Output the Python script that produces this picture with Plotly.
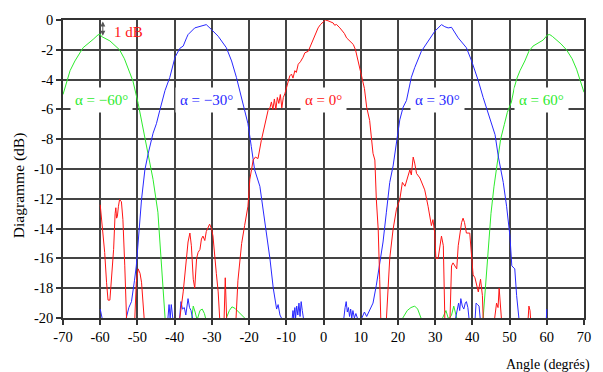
import plotly.graph_objects as go

# ---------------- data (angle in degrees, pattern in dB; -21 = below the plotted range) ----------------
green_m60_x = [-70, -68.1, -66.8, -64.6, -61.9, -60.6, -60.0, -59.7, -57.4, -54.8, -53.5, -52.1, -51.2,
               -49.8, -48.5, -47.1, -45.8, -44.5, -43.5, -42.6, -42.3,
               -35.9, -35.5, -35.0, -34.5, -34.1, -33.8, -33.2, -32.6, -32.0, -31.7, -31.4,
               -26.5, -26.1, -25.3, -24.6, -23.8, -22.5, -21.2, -20.9, 0]
green_m60_y = [-5.0, -3.4, -2.75, -1.86, -1.3, -1.0, -0.95, -1.1, -1.4, -2.0, -2.6, -3.5, -4.1,
               -5.6, -7.2, -8.95, -10.7, -12.9, -16.3, -19.6, -21,
               -21, -20, -19.2, -19.6, -20, -20, -19.5, -19.4, -19.7, -20, -21,
               -21, -20, -19.5, -19.25, -19.35, -19.7, -20, -21, -21]

green_p60_x = [0, 20.9, 21.3, 22.5, 23.5, 24.5, 25.3, 26.2, 26.6,
               31.6, 32.0, 32.9, 33.5, 33.9, 34.4, 35.0, 35.8, 36.2,
               42.6, 42.9, 43.4, 44.2, 45.0, 45.8, 46.6, 47.6, 48.6, 49.4, 50.5, 51.3, 52.0, 52.8,
               54.1, 55.2, 56.3, 58.0, 59.0, 60.2, 60.8, 61.5, 62.2, 63.8, 65.3, 66.8, 68.0, 69.2, 70]
green_p60_y = [-21, -21, -20, -19.5, -19.3, -19.2, -19.4, -20, -21,
               -21, -20, -19.5, -20, -20, -19.8, -19.2, -20, -21,
               -21, -20, -18.0, -15.2, -13.0, -11.2, -9.6, -8.0, -7.0, -6.2, -5.5, -4.5, -3.9, -3.4,
               -2.75, -2.1, -1.75, -1.5, -1.35, -1.0, -0.98, -1.1, -1.25, -1.6, -2.0, -2.6, -3.3, -4.2, -4.85]

blue_m30_x = [-60.0, -59.5, -59.3,
              -53.3, -53.0, -52.3, -51.6, -51.2, -50.8, -50.3, -49.8, -49.3, -48.9, -48.0, -47.1, -45.8,
              -44.9, -44.0, -42.6, -41.3, -39.9, -38.6, -37.7, -36.8, -36.4, -34.6, -33.5, -32.8, -32.2,
              -31.5, -30.1, -28.3, -26.1, -24.7, -23.4, -22.5, -21.6, -21.2, -20.3, -19.4, -18.5, -17.1,
              -16.2, -15.3, -14.4, -13.5, -12.6, -12.2, -11.7, -11.3, -11.0,
              -8.8, -8.5, -8.2, -8.0, -7.7, -7.5, -7.2, -6.9, -6.6, -6.3, -6.0, -5.7, -5.4, -5.2,
              35.2, 35.5, 35.9, 36.3, 36.6, 36.9, 37.3, 37.7, 38.1, 38.4, 38.8, 39.2, 39.5,
              40.5, 40.8, 41.0, 41.4, 41.8, 42.1, 42.4, 60.0]
blue_m30_y = [-19.4, -20, -21,
              -21, -20, -19.3, -18.9, -18.0, -17.5, -16.5, -14.9, -13.5, -12.05, -10.06, -8.95, -7.6,
              -6.96, -6.07, -4.74, -3.85, -2.5, -1.9, -1.75, -1.2, -0.98, -0.53, -0.45, -0.42, -0.35,
              -0.31, -0.64, -1.09, -1.86, -2.75, -3.85, -4.74, -5.63, -6.07, -6.96, -8.5, -10.06, -11.16,
              -12.7, -14.3, -16.0, -18.0, -19.4, -19.1, -19.8, -20, -21,
              -21, -20, -19.5, -20, -19.3, -20, -19.2, -19.8, -19.0, -19.9, -18.9, -19.5, -20, -21,
              -21, -20, -19.6, -19.0, -19.5, -18.7, -19.2, -19.4, -19.0, -18.9, -19.3, -20, -21,
              -21, -20, -19.0, -19.1, -19.2, -20, -21, -21]

blue_p30_x = [-60.0, -42.0, -41.8, -41.5, -41.2, -40.9, -40.5, -40.2,
              -39.0, -38.7, -38.3, -37.9, -37.4, -37.0, -36.7, -36.4, -36.0, -35.6, -35.2, -34.9,
              5.0, 5.4, 5.8, 6.1, 6.4, 6.7, 7.0, 7.3, 7.6, 7.9, 8.3, 8.7, 9.1, 9.4,
              10.0, 10.3, 11.0, 11.6, 12.4, 13.3, 14.2, 15.1, 16.0, 16.9, 17.8, 18.7, 19.6, 20.5, 21.4,
              22.3, 23.6, 24.5, 26.3, 28.1, 29.9, 31.7, 32.6, 33.5, 34.4, 36.2, 38.4, 39.8, 41.6, 42.9,
              44.7, 46.1, 47.0, 48.3, 49.2, 50.1, 50.6, 51.4, 51.9, 52.3, 52.6, 52.9,
              59.7, 59.9, 60.0]
blue_p30_y = [-21, -21, -20, -19.1, -20, -19.1, -20, -21,
              -21, -20, -18.9, -19.4, -19.3, -19.8, -19.0, -18.7, -19.3, -19.5, -20, -21,
              -21, -20, -19.3, -18.9, -19.6, -19.3, -19.9, -19.4, -20, -19.5, -20, -19.7, -20, -21,
              -21, -20, -19.6, -19.9, -19.5, -19.0, -17.8, -16.3, -14.9, -12.9, -10.9, -9.8, -8.07, -6.7, -5.85,
              -5.4, -3.85, -3.2, -2.1, -1.42, -0.76, -0.31, -0.45, -0.53, -0.49, -1.2, -1.86, -2.75, -4.08, -5.2,
              -6.6, -7.7, -9.2, -10.9, -12.5, -14.5, -16.5, -16.7, -18.5, -19.6, -20, -21,
              -21, -20, -19.4]

red_0_x = [-60.0, -59.3, -58.8, -58.3, -57.9, -57.4, -57.0, -56.4, -56.0, -55.8, -55.6, -55.4, -55.1,
           -54.8, -54.3, -53.9, -53.4, -53.0, -52.8,
           -51.0, -50.7, -50.3, -49.8, -49.3, -48.9, -48.2, -48.0,
           -38.9, -38.6, -37.7, -37.3, -36.8, -36.4, -35.9, -35.5, -35.0, -34.6, -34.1, -33.7, -33.2,
           -32.8, -32.4, -31.9, -31.5, -30.6, -30.1, -29.7, -28.8, -28.3, -27.9, -27.7,
           -26.9, -26.7, -26.4, -26.1, -25.9,
           -23.8, -23.5, -23.0, -22.5, -22.0, -21.2, -20.3, -19.8, -18.9, -18.3, -17.6, -16.7, -15.8,
           -14.9, -14.4, -14.0, -13.6, -13.2, -12.8, -12.4, -12.0, -11.6, -11.2, -10.8, -10.4, -9.95,
           -9.5, -9.06, -8.6, -8.2, -7.7, -7.3, -6.8, -6.2, -5.5, -5.0, -4.1, -3.4, -2.8, -2.2, -1.45,
           -0.8, -0.1, 0.5, 1.2, 1.9, 2.6, 3.0, 3.5, 4.4, 5.0, 5.6, 6.2, 7.0, 8.0, 8.6, 9.3, 10.2,
           11.0, 11.6, 12.4, 13.3, 13.8, 14.2, 14.7, 15.1, 15.3, 15.5,
           16.7, 16.9, 17.8, 18.7, 19.6, 20.5, 21.2, 21.9, 22.7, 23.2, 23.6, 24.1, 24.5, 25.0, 25.9,
           27.2, 28.1, 29.0, 29.4, 29.9, 30.2, 30.8, 31.7, 32.2, 32.6, 32.8,
           33.8, 34.0, 34.4, 34.8, 35.8, 36.2, 37.1, 37.5, 37.9, 38.4, 39.3, 39.8, 40.2, 40.7, 41.1,
           41.6, 42.2, 42.7, 42.9, 43.1,
           45.8, 46.0, 46.5, 46.9, 47.2, 47.6, 47.8, 48.0,
           54.8, 55.0, 55.2, 55.5, 55.7, 55.9, 60.0]
red_0_y = [-12.4, -14.05, -15.6, -17.6, -18.8, -18.8, -17.6, -15.4, -13.0, -12.6, -13.3, -13.2, -12.5,
           -12.05, -12.2, -13.4, -16.5, -20, -21,
           -21, -20, -17.6, -16.7, -17.0, -17.6, -20, -21,
           -21, -20, -18.25, -17.1, -16.0, -14.9, -14.3, -15.15, -17.4, -18.0, -16.0, -15.6, -15.4,
           -14.7, -14.5, -14.8, -14.2, -13.7, -14.0, -14.5, -17.0, -18.25, -20, -21,
           -21, -20, -17.3, -20, -21,
           -21, -20, -17.5, -16.3, -15.0, -13.8, -12.5, -10.7, -9.4, -9.2, -9.3, -8.07, -6.96,
           -6.07, -5.9, -5.5, -6.0, -5.3, -6.0, -5.2, -5.6, -5.0, -5.9, -5.2, -4.96, -4.6,
           -4.08, -3.75, -3.63, -3.9, -3.4, -3.52, -2.97, -2.8, -2.5, -2.2, -2.1, -1.7, -1.42, -1.0, -0.53,
           -0.3, -0.13, 0.0, -0.05, -0.1, -0.2, -0.35, -0.3, -0.53, -0.7, -0.9, -1.2, -1.4, -1.64, -2.0, -2.75, -3.63,
           -4.6, -5.85, -6.74, -8.95, -9.4, -12.05, -14.05, -17.4, -20, -21,
           -21, -20, -16.0, -14.05, -12.7, -12.05, -10.9, -11.16, -10.5, -10.06, -10.4, -9.2, -9.6, -10.3, -10.6,
           -11.4, -12.5, -13.8, -13.4, -14.3, -16.0, -16.0, -14.5, -15.15, -20, -21,
           -21, -20, -16.5, -16.3, -16.7, -15.15, -13.6, -13.3, -13.6, -14.3, -14.3, -15.6, -17.1, -17.3, -17.8,
           -18.25, -17.4, -18.5, -20, -21,
           -21, -20, -19.0, -19.3, -18.0, -19.0, -20, -21,
           -21, -20, -19.2, -19.5, -20, -21, -21]

x_tick_vals = [-70, -60, -50, -40, -30, -20, -10, 0, 10, 20, 30, 40, 50, 60, 70]
x_tick_text = ["-70", "-60", "-50", "-40", "-30", "-20", "-10", "0", "10", "20", "30", "40", "50", "60", "70"]
y_tick_vals = [0, -2, -4, -6, -8, -10, -12, -14, -16, -18, -20]
y_tick_text = ["0", "-2", "-4", "-6", "-8", "-10", "-12", "-14", "-16", "-18", "-20"]

labels = ["α = −60°", "α = −30°", "α = 0°", "α = 30°", "α = 60°"]
label_x = [-59.7, -31.5, 0.0, 30.6, 58.6]
label_y = -5.38

GREEN = "rgb(45,235,45)"
BLUE = "rgb(40,40,255)"
RED = "rgb(255,20,20)"
label_colors = [GREEN, BLUE, RED, BLUE, GREEN]

FONT = "Liberation Serif"

fig = go.Figure()
for xs, ys, col in [(green_m60_x, green_m60_y, GREEN), (green_p60_x, green_p60_y, GREEN),
                    (blue_m30_x, blue_m30_y, BLUE), (blue_p30_x, blue_p30_y, BLUE),
                    (red_0_x, red_0_y, RED)]:
    fig.add_trace(go.Scatter(x=xs, y=ys, mode="lines", line=dict(color=col, width=1),
                             showlegend=False, hoverinfo="skip"))

for t, lx, c in zip(labels, label_x, label_colors):
    fig.add_annotation(x=lx, y=label_y, xref="x", yref="y", text=t, showarrow=False,
                       font=dict(family=FONT, size=15, color=c), bgcolor="white",
                       borderpad=4, borderwidth=1, bordercolor="rgba(0,0,0,0)")

# 1 dB marker
fig.add_annotation(x=-59.3, y=-1.05, ax=-59.3, ay=0.0, xref="x", yref="y", axref="x", ayref="y",
                   text="", showarrow=True, arrowside="end+start", arrowhead=2, arrowsize=1,
                   arrowwidth=1, arrowcolor="#555555", standoff=0, startstandoff=0)
fig.add_annotation(x=-52.3, y=-0.8, xref="x", yref="y", text="1 dB", showarrow=False,
                   font=dict(family=FONT, size=15, color=RED))

# axis titles
fig.add_annotation(xref="paper", yref="paper", x=1.0153, y=-0.159, xanchor="right", yanchor="middle",
                   text="Angle (degrés)", showarrow=False, font=dict(family=FONT, size=14, color="black"))
fig.add_annotation(xref="paper", yref="paper", x=-0.083, y=0.445, xanchor="center", yanchor="middle",
                   textangle=-90, text="Diagramme (dB)", showarrow=False,
                   font=dict(family=FONT, size=15.5, color="black"))

axis_common = dict(showgrid=True, gridcolor="#444444", gridwidth=1.5, zeroline=False,
                   showline=True, linecolor="#333333", linewidth=1.5, mirror=True,
                   ticks="outside", ticklen=5, tickcolor="#333333", tickwidth=1.5,
                   tickfont=dict(family=FONT, size=14.5, color="black"))

fig.update_xaxes(range=[-70, 70], tickmode="array", tickvals=x_tick_vals, ticktext=x_tick_text,
                 **axis_common)
fig.update_yaxes(range=[-20, 0], tickmode="array", tickvals=y_tick_vals, ticktext=y_tick_text,
                 **axis_common)

fig.update_layout(width=603, height=372, margin=dict(l=63, r=18, t=16, b=54),
                  plot_bgcolor="white", paper_bgcolor="white", showlegend=False,
                  font=dict(family=FONT))

fig.write_html("out.html", config={"displayModeBar": False},
               post_script="document.body.style.margin='0px';")
